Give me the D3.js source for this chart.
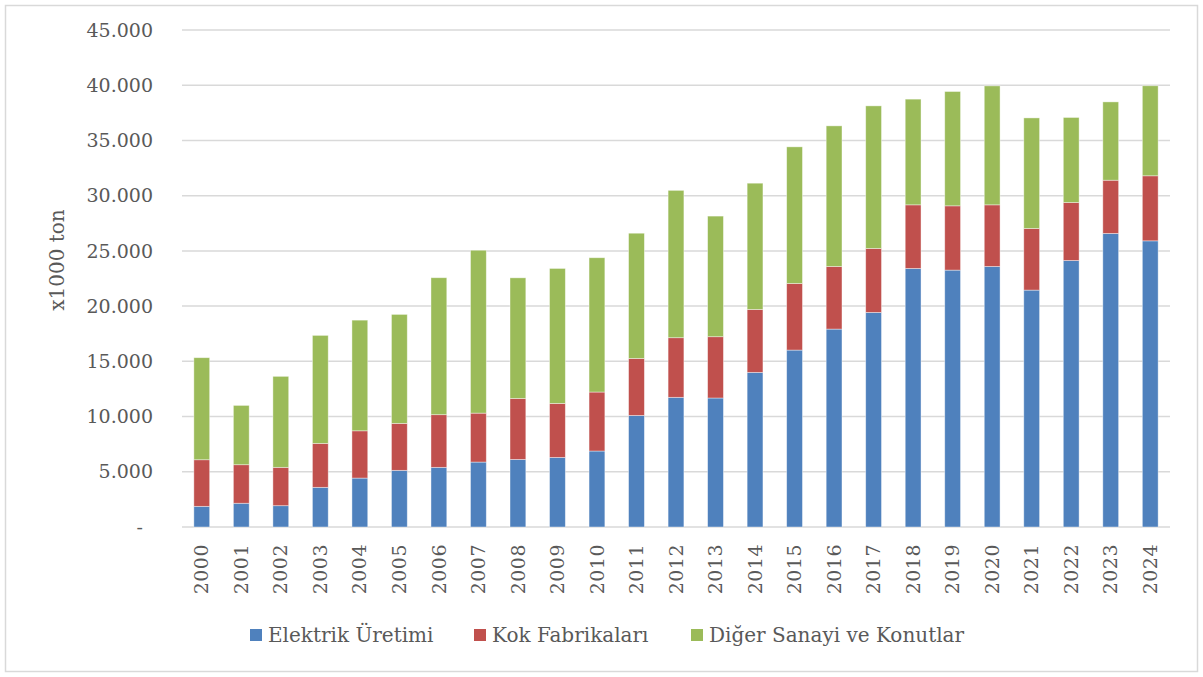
<!DOCTYPE html>
<html>
<head>
<meta charset="utf-8">
<script src="https://cdn.jsdelivr.net/npm/d3@7"></script>
<style>
  body { margin: 0; background: #fff; }
  text { font-family: "DejaVu Serif", serif; fill: #595959; }
</style>
</head>
<body>
<div id="chart"></div>
<script>
// data, x1000 ton
var years = ["2000","2001","2002","2003","2004","2005","2006","2007","2008","2009","2010","2011","2012",
             "2013","2014","2015","2016","2017","2018","2019","2020","2021","2022","2023","2024"];
var elektrik = [1870,2150,1930,3590,4430,5130,5400,5880,6120,6300,6880,10100,11740,
                11680,14000,16020,17920,19430,23410,23260,23590,21450,24130,26580,25910];
var kok = [4220,3490,3470,3980,4280,4250,4770,4430,5520,4890,5340,5160,5400,
           5550,5700,6030,5670,5790,5760,5820,5580,5580,5250,4820,5890];
var diger = [9240,5370,8240,9780,10020,9870,12400,14750,10920,12220,12160,11340,13340,
             10920,11430,12370,12730,12910,9570,10350,10770,10010,7700,7090,8150];
var seriesNames = ["Elektrik Üretimi", "Kok Fabrikaları", "Diğer Sanayi ve Konutlar"];
var colors = ["#4F81BD", "#C0504D", "#9BBB59"];
var yTicks = [0,5000,10000,15000,20000,25000,30000,35000,40000,45000];

var W = 1203, H = 677;
var svg = d3.select("#chart").append("svg").attr("width", W).attr("height", H);

// outer frame
svg.append("rect").attr("x", 5.5).attr("y", 5.5).attr("width", W - 11).attr("height", H - 11)
   .attr("fill", "#fff").attr("stroke", "#d9d9d9").attr("stroke-width", 1.5);

var pLeft = 182, pRight = 1170, pTop = 30, pBottom = 527;

var x = d3.scaleBand().domain(years).range([pLeft, pRight]).paddingInner(0.6).paddingOuter(0.3);
var y = d3.scaleLinear().domain([0, 45000]).range([pBottom, pTop]);

var fmt = function (d) { return d === 0 ? "-" : d3.format(",")(d).replace(/,/g, "."); };

// gridlines
svg.append("g").selectAll("line").data(yTicks).join("line")
   .attr("x1", pLeft).attr("x2", pRight)
   .attr("y1", function (d) { return y(d); }).attr("y2", function (d) { return y(d); })
   .attr("stroke", "#d9d9d9").attr("stroke-width", 1.5);

// y labels
svg.append("g").selectAll("text").data(yTicks).join("text")
   .attr("x", function (d) { return d === 0 ? 143 : 153; })
   .attr("y", function (d) { return y(d); })
   .attr("dy", "0.35em").attr("text-anchor", "end")
   .style("font-size", "19px").text(fmt);

// stacked bars
var rows = years.map(function (yr, i) { return { year: yr, a: elektrik[i], b: kok[i], c: diger[i] }; });
var stack = d3.stack().keys(["a", "b", "c"])(rows);

svg.append("g").selectAll("g").data(stack).join("g")
   .attr("fill", function (d, i) { return colors[i]; })
   .selectAll("rect").data(function (d) { return d; }).join("rect")
   .attr("x", function (d) { return x(d.data.year); })
   .attr("width", x.bandwidth())
   .attr("y", function (d) { return y(d[1]); })
   .attr("height", function (d) { return y(d[0]) - y(d[1]); })
   .attr("stroke", "#ffffff").attr("stroke-opacity", 0.5).attr("stroke-width", 0.8);

// x labels, rotated
svg.append("g").selectAll("text").data(years).join("text")
   .attr("transform", function (d) { return "translate(" + (x(d) + x.bandwidth() / 2) + ",544) rotate(-90)"; })
   .attr("dy", "0.35em").attr("text-anchor", "end")
   .style("font-size", "19px").style("letter-spacing", "0.5px").text(function (d) { return d; });

// y axis title
svg.append("text").attr("transform", "translate(57,260) rotate(-90)")
   .attr("text-anchor", "middle").attr("dy", "0.35em")
   .style("font-size", "20px").text("x1000 ton");

// legend
var legX = [250, 474, 691];
var leg = svg.append("g").selectAll("g").data(seriesNames).join("g")
   .attr("transform", function (d, i) { return "translate(" + legX[i] + ",629)"; });
leg.append("rect").attr("width", 12).attr("height", 12).attr("fill", function (d, i) { return colors[i]; });
leg.append("text").attr("x", 18).attr("y", 6).attr("dy", "0.35em")
   .style("font-size", "20px").text(function (d) { return d; });
</script>
</body>
</html>
